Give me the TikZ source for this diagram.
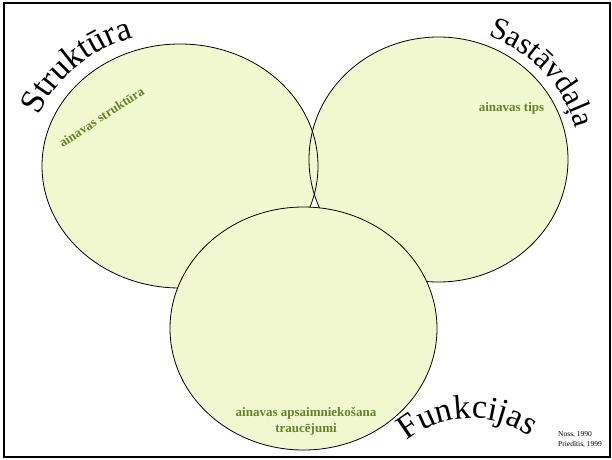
\documentclass[tikz,border=0pt]{standalone}
\usepackage{fontspec}
\setmainfont{Liberation Serif}
\usetikzlibrary{decorations.text}
\definecolor{vfill}{RGB}{241,248,208}
\definecolor{vgreen}{RGB}{100,130,40}
\begin{document}
\begin{tikzpicture}[x=1pt,y=1pt,
  venn/.style={fill=vfill},
  vline/.style={draw=black, line width=0.8pt},
  innertext/.style={text=vgreen, font=\fontsize{13}{15}\selectfont\bfseries, inner sep=0pt},
  reftext/.style={font=\fontsize{7.5}{9}\selectfont, inner sep=0pt, anchor=base west},
  bigtext/.style={decorate, decoration={text along path, text align=center}}]
\useasboundingbox (0,0) rectangle (612,459);
\draw[line width=2pt] (3.5,2) rectangle (610,455.5);
\coordinate (L) at (180,293);
\coordinate (R) at (438.5,299.5);
\coordinate (B) at (303.5,130.5);
\fill[venn] (L) ellipse [x radius=138, y radius=122];
\fill[venn] (R) ellipse [x radius=129.5, y radius=122.5];
\draw[vline] (L) ellipse [x radius=138, y radius=122];
\draw[vline] (R) ellipse [x radius=129.5, y radius=122.5];
\draw[vline, fill=vfill] (B) ellipse [x radius=133.5, y radius=121.5];
% curved titles
\path[bigtext, decoration={text={|\fontsize{34}{34}\selectfont|Struktūra}}]
  (L) ++(159:152 and 135) arc[start angle=159, end angle=107, x radius=152, y radius=135];
\path[bigtext, decoration={text={|\fontsize{31}{31}\selectfont|Sastāvdaļa}}]
  (R) ++(72:141 and 132) arc[start angle=72, end angle=11, x radius=141, y radius=132];
\path[bigtext, decoration={text={|\fontsize{34}{34}\selectfont|Funkcijas}}]
  (471,-59) ++(132:100) arc[start angle=132, end angle=52, radius=100];
% inner labels
\node[innertext, rotate=33] (struct) at (101.5,342) {ainavas struktūra};
\node[innertext, anchor=base] (tips) at (511.5,348) {ainavas tips};
\node[innertext, anchor=base] (apsaim) at (306,43) {ainavas apsaimniekošana};
\node[innertext, anchor=base] (trauc) at (306,27) {traucējumi};
% references
\node[reftext] (noss) at (558,23) {Noss, 1990};
\node[reftext] (pried) at (558,13) {Priedītis, 1999};
\end{tikzpicture}
\end{document}
